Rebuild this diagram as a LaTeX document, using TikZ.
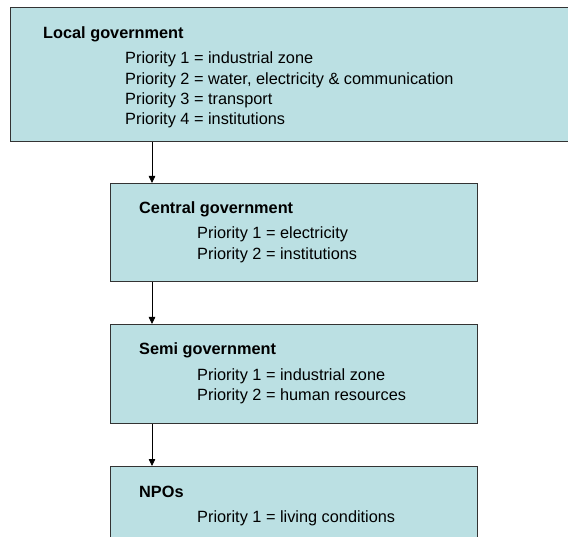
\documentclass[tikz,border=0pt]{standalone}
\usepackage{fontspec}
\setmainfont{Liberation Sans}
\usetikzlibrary{positioning,arrows.meta}
\definecolor{boxfill}{RGB}{187,224,227}

\begin{document}
\begin{tikzpicture}[x=1pt,y=-1pt,
    box/.style={rectangle,draw=black!80,fill=boxfill,line width=1pt,anchor=north west,inner sep=0pt},
    head/.style={font=\fontsize{16.3}{20.3}\selectfont\bfseries,anchor=base west,inner sep=0pt},
    prio/.style={font=\fontsize{16.3}{20.3}\selectfont,align=left,anchor=base west,inner sep=0pt},
    link/.style={-{Triangle[length=7pt,width=6.5pt]},line width=0.8pt}]
    \clip (0,0) rectangle (568,537);

    % Boxes
    \node[box,minimum width=570pt,minimum height=134pt] (local) at (10,7) {};
    \node[box,minimum width=367pt,minimum height=98pt] (central) at (110,183) {};
    \node[box,minimum width=367pt,minimum height=99pt] (semi) at (110,324) {};
    \node[box,minimum width=367pt,minimum height=100pt] (npo) at (110,466) {};

    % Texts (base of a list = its last line)
    \node[head] (localhead) at ([xshift=33pt,yshift=-32pt]local.north west) {Local government};
    \node[prio] (localprio) at ([xshift=82pt,yshift=-85.9pt]localhead.base west)
        {Priority 1 = industrial zone\\Priority 2 = water, electricity \& communication\\
         Priority 3 = transport\\Priority 4 = institutions};
    \node[head] (centralhead) at ([xshift=29pt,yshift=-31pt]central.north west) {Central government};
    \node[prio] (centralprio) at ([xshift=58pt,yshift=-45.3pt]centralhead.base west)
        {Priority 1 = electricity\\Priority 2 = institutions};
    \node[head] (semihead) at ([xshift=29pt,yshift=-31pt]semi.north west) {Semi government};
    \node[prio] (semiprio) at ([xshift=58pt,yshift=-45.3pt]semihead.base west)
        {Priority 1 = industrial zone\\Priority 2 = human resources};
    \node[head] (npohead) at ([xshift=29pt,yshift=-31pt]npo.north west) {NPOs};
    \node[prio] (npoprio) at ([xshift=58pt,yshift=-25pt]npohead.base west)
        {Priority 1 = living conditions};

    % Arrows
    \coordinate (centraltop) at ([xshift=42pt]central.north west);
    \coordinate (semitop) at ([xshift=42pt]semi.north west);
    \coordinate (npotop) at ([xshift=42pt]npo.north west);
    \draw[link] (local.south -| centraltop) -- (centraltop);
    \draw[link] (central.south -| semitop) -- (semitop);
    \draw[link] (semi.south -| npotop) -- (npotop);
\end{tikzpicture}
\end{document}
